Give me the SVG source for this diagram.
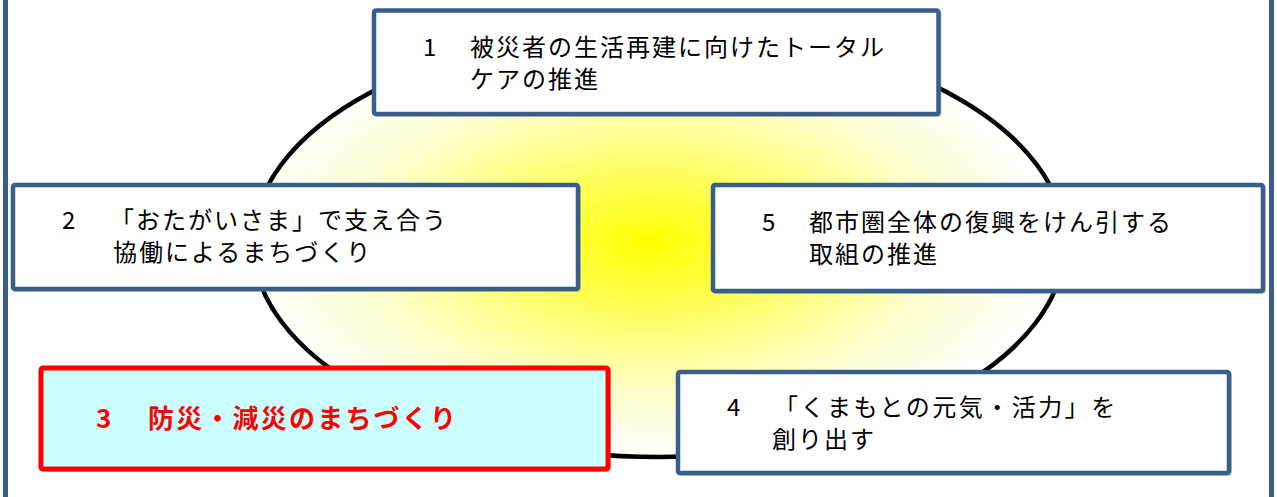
<svg xmlns="http://www.w3.org/2000/svg" width="1277" height="497" viewBox="0 0 1277 497">
  <style>
    .box { fill: #FFFFFF; stroke: #3A5E8C; stroke-width: 4.5; }
    .hl { fill: #CCFFFF; stroke: #FF0000; stroke-width: 5; }
    .shadow { fill: none; stroke: #8A8A8A; stroke-opacity: 0.45; stroke-width: 3; }
    .t { font-family: "Noto Sans CJK JP", "Noto Sans", sans-serif; font-size: 24px; fill: #000000; letter-spacing: 2px; }
    .n { font-family: "Noto Sans CJK JP", "Noto Sans", sans-serif; font-size: 24px; fill: #000000; }
    .r { font-family: "Noto Sans CJK JP", "Noto Sans", sans-serif; font-size: 26px; font-weight: bold; fill: #FF0000; letter-spacing: 2.2px; }
  </style>
  <defs>
    <radialGradient id="glow" cx="0.49" cy="0.5" r="0.5">
      <stop offset="0" stop-color="#FFFF00"/>
      <stop offset="0.35" stop-color="#FFFF66"/>
      <stop offset="0.7" stop-color="#FFFFCC"/>
      <stop offset="1" stop-color="#FFFFFF"/>
    </radialGradient>
  </defs>
  <rect x="0" y="0" width="1277" height="497" fill="#FFFFFF"/>
  <rect id="frame" x="5.5" y="-10" width="1266" height="517" fill="none" stroke="#3A5E8C" stroke-width="5"/>
  <g id="connectors">
    <ellipse id="ring" cx="659" cy="243" rx="406" ry="214" fill="url(#glow)" stroke="#000000" stroke-width="4.5"/>
  </g>
  <g id="node1">
    <rect class="shadow" x="375.5" y="12" width="564.5" height="103.5" rx="2"/>
    <rect class="box" x="374" y="10.5" width="564.5" height="103.5" rx="2"/>
    <text class="n" x="423" y="55.5">1</text>
    <text class="t" x="470" y="55.5">被災者の生活再建に向けたトータル</text>
    <text class="t" x="470" y="87.5">ケアの推進</text>
  </g>
  <g id="node2">
    <rect class="shadow" x="14.5" y="186.5" width="565" height="104" rx="2"/>
    <rect class="box" x="13" y="185" width="565" height="104" rx="2"/>
    <text class="n" x="62" y="229">2</text>
    <text class="t" x="110" y="229">「おたがいさま」で支え合う</text>
    <text class="t" x="113" y="261">協働によるまちづくり</text>
  </g>
  <g id="node5">
    <rect class="shadow" x="714.5" y="186.5" width="550" height="106" rx="2"/>
    <rect class="box" x="713" y="185" width="550" height="106" rx="2"/>
    <text class="n" x="762" y="231">5</text>
    <text class="t" x="809" y="231">都市圏全体の復興をけん引する</text>
    <text class="t" x="809" y="263">取組の推進</text>
  </g>
  <g id="node3">
    <rect class="shadow" x="42.5" y="369.5" width="567" height="101" rx="2"/>
    <rect class="hl" x="41" y="368" width="567" height="101" rx="2"/>
    <text class="r" x="96" y="428">3</text>
    <text class="r" x="148" y="428">防災・減災のまちづくり</text>
  </g>
  <g id="node4">
    <rect class="shadow" x="679.5" y="373.5" width="551" height="101" rx="2"/>
    <rect class="box" x="678" y="372" width="551" height="101" rx="2"/>
    <text class="n" x="727" y="416">4</text>
    <text class="t" x="774" y="416" style="letter-spacing:2.5px">「くまもとの元気・活力」を</text>
    <text class="t" x="772" y="448">創り出す</text>
  </g>
</svg>
